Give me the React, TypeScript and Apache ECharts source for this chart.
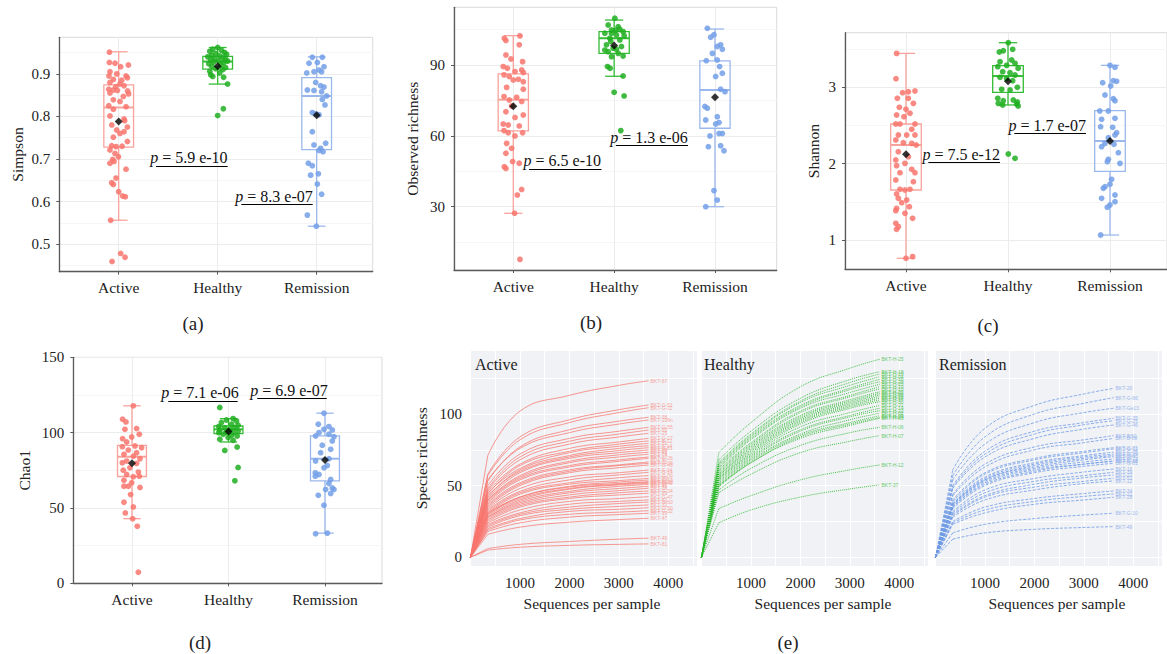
import React, { useEffect, useRef } from "react";
import * as echarts from "echarts";

const SERIF = '"Liberation Serif", "DejaVu Serif", serif';
const CATEGORIES = ["Active", "Healthy", "Remission"];
const POINT_COLORS = ["#F8766D", "#1FAE1F", "#739FE8"];
const BOX_COLORS = ["#F9A29C", "#35BC35", "#9BB8EC"];
const CURVE_COLORS = ["#F8766D", "#2DB82D", "#6F9BE6"];
const CURVE_LABEL_COLORS = ["#F7A59F", "#6CCB6C", "#9DB8EC"];

// ---- (a) Simpson ----  box: [lowerWhisker, Q1, median, Q3, upperWhisker]
const SIMPSON_BOX = [
  [0.556, 0.728, 0.821, 0.874, 0.952],
  [0.876, 0.911, 0.929, 0.941, 0.962],
  [0.542, 0.722, 0.848, 0.891, 0.94],
];
const SIMPSON_MEAN = [0.788, 0.918, 0.803];
// points: [jitter, value]
const SIMPSON_ACTIVE = [[-0.094,0.951],[-0.094,0.927],[-0.037,0.925],[0.098,0.921],[0.02,0.917],[-0.088,0.905],[-0.02,0.9],[-0.098,0.895],[0.074,0.895],[0.088,0.891],[-0.054,0.887],[0.03,0.885],[-0.088,0.88],[0.013,0.876],[0.054,0.872],[-0.03,0.87],[-0.1,0.864],[-0.054,0.862],[-0.013,0.861],[0.09,0.86],[-0.088,0.855],[0.1,0.853],[0.047,0.847],[-0.054,0.839],[0.013,0.835],[-0.1,0.825],[0.074,0.823],[-0.054,0.817],[-0.088,0.801],[0.054,0.794],[0.06,0.79],[-0.07,0.78],[0.088,0.775],[-0.02,0.768],[0.013,0.76],[0.054,0.764],[-0.054,0.751],[0.088,0.741],[-0.071,0.731],[-0.027,0.729],[0.034,0.73],[-0.088,0.721],[-0.037,0.713],[-0.003,0.705],[-0.061,0.699],[-0.088,0.69],[-0.047,0.694],[0.074,0.676],[-0.027,0.655],[-0.071,0.644],[-0.054,0.64],[0,0.623],[0.04,0.613],[0.067,0.611],[-0.081,0.556],[0.02,0.478],[0.064,0.469],[-0.067,0.459]];
const SIMPSON_HEALTHY = [[0,0.962],[-0.05,0.958],[0.04,0.955],[-0.08,0.953],[0.07,0.95],[-0.02,0.948],[0.09,0.946],[-0.06,0.944],[0.02,0.942],[-0.1,0.94],[0.05,0.938],[-0.03,0.936],[0.08,0.935],[-0.07,0.933],[0.01,0.931],[0.1,0.93],[-0.04,0.928],[0.06,0.926],[-0.09,0.924],[0.03,0.921],[-0.06,0.918],[0.08,0.915],[-0.02,0.912],[0.05,0.91],[-0.08,0.906],[0.02,0.902],[-0.07,0.898],[-0.05,0.894],[0.06,0.892],[0.1,0.876],[0.057,0.818],[0,0.802]];
const SIMPSON_REMISSION = [[-0.044,0.939],[0.057,0.939],[0.007,0.927],[-0.077,0.925],[0.074,0.917],[0.024,0.909],[-0.027,0.905],[-0.1,0.902],[0.05,0.905],[-0.01,0.88],[0.04,0.872],[0.074,0.869],[-0.094,0.862],[-0.027,0.861],[0.05,0.858],[0.1,0.848],[0.057,0.84],[0.084,0.827],[-0.044,0.809],[-0.01,0.806],[0.024,0.804],[-0.044,0.764],[0.091,0.737],[-0.027,0.733],[0.04,0.725],[0.064,0.717],[0.024,0.72],[-0.084,0.69],[-0.044,0.684],[-0.061,0.662],[0.017,0.665],[0.007,0.641],[0.05,0.617],[-0.094,0.568],[-0.003,0.542]];
const SIMPSON_TICKS = [0.5, 0.6, 0.7, 0.8, 0.9];
const SIMPSON_MINOR = [0.45, 0.55, 0.65, 0.75, 0.85, 0.95];
const SIMPSON_P = [
  { text: "5.9 e-10", x1: 1.377, x2: 2.101, y: 0.684 },
  { text: "8.3 e-07", x1: 2.239, x2: 2.96, y: 0.594 },
];

// ---- (b) Observed richness ----
const OBSERVED_BOX = [
  [27.2, 62.1, 75.3, 86.2, 102.4],
  [85.2, 94.9, 101.3, 104.1, 109],
  [30, 63.2, 79.4, 91.7, 105.2],
];
const OBSERVED_MEAN = [72.5, 98.2, 76.3];
const OBSERVED_ACTIVE = [[-0.089,101.3],[-0.073,100.3],[0.066,102.3],[0.059,98.5],[-0.073,94.2],[-0.023,92.5],[0.092,91.4],[-0.1,89.3],[-0.059,88.6],[0.017,87.2],[0.083,87.9],[0.1,86.8],[-0.092,85.8],[-0.04,85.1],[0,83.6],[0.05,83.9],[0.099,82.9],[-0.066,80.5],[0.099,79.7],[-0.092,76.6],[-0.04,75.2],[0.033,76.3],[0.083,74.5],[-0.017,72.6],[-0.073,70.2],[0.099,68.8],[0.017,67.8],[-0.1,65],[-0.05,64.6],[0.059,64.2],[-0.092,62.2],[-0.05,61.3],[0.092,61.3],[0.017,59.9],[-0.066,56.8],[-0.017,54.7],[-0.073,52.6],[0.059,48.4],[-0.007,49.1],[-0.089,46.9],[-0.073,46.2],[0.083,37.3],[0.04,34.9],[0.013,27.2],[0.066,7.7]];
const OBSERVED_HEALTHY = [[0.007,109.8],[-0.059,106.9],[0.04,106.2],[-0.026,104.8],[0.089,104.1],[-0.092,103.4],[0.023,102.7],[-0.043,101.3],[0.1,102.3],[0.056,100.6],[-0.076,98.5],[-0.01,97.1],[0.073,97.8],[-0.059,95.6],[0.04,94.9],[-0.026,93.5],[0.089,93.8],[-0.066,89.3],[-0.04,88.6],[0.089,85.3],[0,78.4],[0.099,76.9],[0.066,62.2],[-0.026,103.4],[0.013,104.6],[-0.033,99.9],[0.023,96.6],[0.056,105.1],[-0.092,96.3]];
const OBSERVED_REMISSION = [[-0.076,105.5],[-0.01,102.8],[-0.043,101.7],[0.056,98.5],[0.023,97.8],[0.073,96.6],[-0.026,94.9],[-0.086,91.8],[0.023,92.1],[0.046,89.3],[0.007,85.1],[0.073,86.5],[0.056,79.7],[0.099,78.7],[-0.1,72.4],[-0.076,71.7],[-0.092,66.7],[0.023,68.1],[0.04,65.6],[0.007,65],[0.04,61],[0.073,61],[-0.05,59.9],[-0.066,55.4],[0.056,55.8],[0.089,53.7],[-0.01,36.8],[0.023,32.8],[-0.092,30]];
const OBSERVED_TICKS = [30, 60, 90];
const OBSERVED_MINOR = [15, 45, 75, 105];
const OBSERVED_P = [
  { text: "6.5 e-10", x1: 1.155, x2: 1.875, y: 46 },
  { text: "1.3 e-06", x1: 2.017, x2: 2.733, y: 56.1 },
];

// ---- (c) Shannon ----
const SHANNON_BOX = [
  [0.76, 1.655, 2.245, 2.52, 3.445],
  [2.769, 2.934, 3.148, 3.284, 3.585],
  [1.065, 1.9, 2.297, 2.694, 3.288],
];
const SHANNON_MEAN = [2.122, 3.079, 2.297];
const SHANNON_ACTIVE = [[-0.092,3.445],[-0.098,3.114],[-0.033,2.93],[0.023,2.943],[0.088,2.952],[-0.085,2.856],[0.023,2.856],[0.072,2.79],[0,2.712],[-0.065,2.738],[0.039,2.66],[-0.092,2.638],[-0.02,2.616],[-0.1,2.52],[-0.059,2.52],[0.088,2.52],[0.056,2.45],[0.088,2.376],[-0.075,2.376],[0.007,2.376],[-0.1,2.31],[-0.026,2.275],[0.056,2.266],[0.1,2.245],[-0.075,2.157],[0.023,2.092],[-0.1,2.048],[-0.01,2.004],[-0.092,1.974],[0.056,1.926],[-0.059,1.882],[0.088,1.882],[-0.1,1.786],[0.072,1.764],[-0.059,1.664],[-0.01,1.655],[0.039,1.664],[-0.092,1.603],[-0.075,1.546],[0.007,1.524],[-0.042,1.489],[0.033,1.437],[-0.092,1.415],[-0.1,1.384],[-0.01,1.349],[0.065,1.284],[-0.1,1.218],[-0.075,1.175],[-0.092,1.14],[0,0.76],[0.065,0.782]];
const SHANNON_HEALTHY = [[0.003,3.585],[-0.085,3.463],[0.046,3.498],[-0.046,3.48],[-0.078,3.336],[0.036,3.358],[0.069,3.314],[-0.013,3.288],[-0.1,3.271],[0.1,3.249],[-0.052,3.205],[0.02,3.192],[0.069,3.162],[-0.078,3.131],[-0.013,3.114],[0.046,3.087],[0.092,3.0],[-0.062,2.974],[0.02,2.965],[-0.1,2.856],[-0.046,2.825],[0.052,2.834],[0.092,2.808],[-0.095,2.79],[-0.052,2.768],[0.085,2.781],[0.1,2.755],[0.003,2.127],[0.069,2.07]];
const SHANNON_REMISSION = [[0,3.288],[0.049,3.262],[-0.072,3.061],[0.007,3.017],[0.065,3.079],[0.033,3.087],[-0.049,2.9],[0.033,2.852],[0.049,2.825],[-0.1,2.69],[-0.016,2.69],[-0.082,2.581],[0.049,2.594],[-0.092,2.485],[0.026,2.476],[0.065,2.406],[0.049,2.376],[-0.016,2.341],[-0.049,2.266],[0.039,2.253],[-0.082,2.223],[0.082,2.144],[-0.016,2.057],[-0.026,2.026],[0.098,2.004],[0.016,1.795],[-0.049,1.699],[-0.065,1.677],[0,1.729],[-0.082,1.546],[0.049,1.59],[0.049,1.502],[0,1.459],[-0.026,1.428],[-0.092,1.065]];
const SHANNON_TICKS = [1, 2, 3];
const SHANNON_MINOR = [1.5, 2.5, 3.5];
const SHANNON_P = [
  { text: "7.5 e-12", x1: 1.219, x2: 1.922, y: 2.017 },
  { text: "1.7 e-07", x1: 2.062, x2: 2.765, y: 2.397 },
];

// ---- (d) Chao1 ----
const CHAO1_BOX = [
  [42.9, 70.9, 84, 91.6, 117.8],
  [93.8, 99.3, 102.2, 104.4, 109.3],
  [33.3, 68, 82.7, 97.8, 112.9],
];
const CHAO1_MEAN = [79.6, 100.7, 81.8];
const CHAO1_ACTIVE = [[0.014,117.8],[-0.097,108.9],[-0.062,107.1],[0.048,102.7],[-0.073,102.2],[0.076,98.9],[-0.097,96],[-0.003,97.1],[-0.055,93.8],[0.031,91.1],[-0.1,90.7],[0.1,90],[-0.038,88.4],[0.048,86.7],[-0.083,85.6],[0.014,84.4],[0.083,82.7],[-0.055,81.1],[-0.1,80],[0.048,79.6],[-0.021,76.7],[-0.09,75.1],[0.066,73.8],[-0.055,72.2],[0.014,70.7],[0.076,71.1],[-0.083,68.4],[-0.003,66.7],[-0.038,64.4],[-0.083,64.4],[0.083,63.6],[-0.014,58.9],[0.014,50.7],[-0.083,53.8],[-0.069,46.7],[0.007,42.9],[0.055,37.8],[0.066,7.3]];
const CHAO1_HEALTHY = [[-0.09,116.7],[0.048,109.3],[-0.021,108.4],[0.083,107.8],[-0.073,106.7],[0.031,105.6],[0.1,104.9],[-0.1,104],[-0.038,103.3],[0.066,103.3],[0.014,102.2],[-0.09,101.8],[0.1,101.1],[-0.021,100.4],[0.048,100],[-0.1,100],[-0.055,98.9],[0.031,98.2],[0.09,97.8],[-0.003,96.7],[-0.09,95.6],[0.048,94.9],[-0.038,88.2],[0.09,90.4],[0.1,76.9],[0.066,68]];
const CHAO1_REMISSION = [[-0.01,112.9],[-0.069,105.6],[0.041,104],[-0.01,102.2],[0.076,101.8],[-0.062,100],[0.041,98.9],[0.093,97.3],[-0.097,97.8],[0.076,94.4],[-0.028,91.6],[0.059,88.9],[-0.045,86.7],[0.041,82.7],[-0.097,81.1],[0.024,78.2],[-0.01,76.7],[-0.1,73.3],[-0.062,72.2],[-0.1,71.1],[0.059,68.9],[0.041,66.2],[0.076,63.3],[0.093,62.2],[0.007,62.2],[0.059,59.6],[-0.069,58.4],[-0.01,51.8],[-0.097,32.9],[0.024,33.3]];
const CHAO1_TICKS = [0, 50, 100, 150];
const CHAO1_MINOR = [25, 75, 125];
const CHAO1_P = [
  { text: "7.1 e-06", x1: 1.376, x2: 2.095, y: 121.1 },
  { text: "6.9 e-07", x1: 2.298, x2: 3.018, y: 122.7 },
];

// ---- (e) rarefaction curves ----
// the first segment (0 -> first depth) is straight, the rest is a smooth saturating curve
const DEPTHS = [0, 350, 1000, 2000, 3000, 3600];
const ACTIVE_NAMES = ["BKT-67","BKT-G-51","BKT-G-11","BKT-38","BKT-106n","BKT-G-55","BKT-55","BKT-25","BKT-G-17","BKT-B-12","BKT-31","BKT-S-14","BKT-88","BKT-02","BKT-74","BKT-G-26","BKT-70","BKT-G-43","BKT-S-34","BKT-G-14","BKT-59","BKT-G-63","BKT-83","BKT-G-49","BKT-12","BKT-30","BKT-G-34","BKT-29","BKT-G-47","BKT-62","BKT-32","BKT-G-50","BKT-G-32","BKT-19","BKT-47","BKT-46","BKT-81","BKT-G-21","BKT-G-38","BKT-G-09","BKT-41","BKT-G-60","BKT-17","BKT-G-22"];
const ACTIVE_CURVES = [
  [0,71,102,113,120,123.2],[0,58,84,96,103,106.3],[0,57,82,94,101,104.4],[0,53,77,89,95,97.7],
  [0,54,76,87,93,95.8],[0,50,72,83,88,90.7],[0,48,70,81,86,88.8],[0,47,68,79,84,86.5],
  [0,46,65,76,80.5,83],[0,44,64,74,79,81.2],[0,45,62,73,77.5,79.5],[0,42,61,71,76,77.9],
  [0,41,59,69,73,74.9],[0,40,57,67,71.5,73.3],[0,40,56,66,70,71.9],[0,38,54,63,67,69.1],
  [0,37,52,61,64.5,66.5],[0,35,50,59,62.5,64.4],[0,34,48,56,59,60.9],[0,33,46,54,57.5,59.3],
  [0,31,44,51,53.5,55.1],[0,30,42,49.5,52.5,53.9],[0,31,42,49,51.5,52.8],[0,29,40,47.5,50.5,51.6],
  [0,28,39,46,49.5,50.8],[0,27,37,43.5,46.5,48.2],[0,26,36,42,45,46.3],[0,25,35,41,43.5,44.7],
  [0,24,33,39,41,42.3],[0,23,31,37,39,40],[0,21,29,33.5,35.5,36.5],[0,20,27,32,33.5,34.6],
  [0,19,26,30,31.5,32.5],[0,18,24,28,29.8,30.7],[0,16,21,24.5,26.3,27.2],[0,6,9,11,12.6,13.3],
  [0,5,7,8.3,9,9.3],[0,43,60,70,74.5,76.5],[0,36,51,60,64,65.5],[0,32,45,52,55.5,57],
  [0,28,38,45,48,49.5],[0,22,30,35,37.5,38.5],[0,39,55,64,68,70],[0,30,41,48,51,52.3],
];
const HEALTHY_NAMES = ["BKT-H-25","BKT-H-18","BKT-H-19","BKT-H-04","BKT-H-16","BKT-H-28","BKT-H-23","BKT-H-10","BKT-H-01","BKT-H-05","BKT-H-09","BKT-H-11","BKT-H-17","BKT-H-30","BKT-H-14","BKT-H-22","BKT-H-02","BKT-H-08","BKT-H-03","BKT-H-06","BKT-H-07","BKT-H-12","BKT-37","BKT-H-13","BKT-H-21","BKT-H-24","BKT-H-20"];
const HEALTHY_CURVES = [
  [0,73,94,119,132,138.2],[0,68,88,111,124,129.5],[0,66,86,109,122,127.9],[0,65,85,108,120,126],
  [0,64,84,106,118,124.2],[0,63,83,105,117,122.5],[0,62,82,104,115,120.7],[0,61,80,102,113,119],
  [0,58,77,98,109,114.4],[0,57,76,97,108,113.3],[0,57,75,96,107,112.1],[0,56,74,95,106,111],
  [0,55,73,94,105,109.8],[0,55,72,93,104,108.6],[0,53,70,89,99,104],[0,52,69,88,98,102.3],
  [0,51,68,86,96,100.5],[0,50,67,85,94,98.8],[0,49,66,83,92,97],[0,47,62,78,87,90.7],
  [0,45,58,73,81,84.9],[0,34,43,54,61,64.4],[0,24,33,42,47.7,50.5],[0,60,79,101,112,117.5],
  [0,54,71,91,101,106],[0,50,66,84,93,97.6],[0,59,78,99,110,115.5],
];
const REMISSION_NAMES = ["BKT-26","BKT-G-66","BKT-Ge13","BKT-G-35","BKT-G-25","BKT-G-46","BKT-Bi50","BKT-B-08","BKT-G-92","BKT-G-05","BKT-G-29","BKT-20","BKT-G-73","BKT-G-15","BKT-G-01","BKT-16","BKT-39","BKT-22","BKT-52","BKT-12","BKT-34","BKT-21","BKT-28","BKT-G-10","BKT-49","BKT-G-40","BKT-G-08","BKT-G-71"];
const REMISSION_CURVES = [
  [0,61,90,106,114,117.9],[0,57,84,100,107.5,111.4],[0,54,79,94,101,104],[0,50,74,88,94,97],
  [0,49,72,86,92.5,95.3],[0,48,70,83,89.5,92.3],[0,44,65,77,82,84.9],[0,43,63,75,80,83],
  [0,39,58,68,73,75.6],[0,38,56,66,71,73.3],[0,37,55,65,70,71.9],[0,36,54,63,68,70.2],
  [0,36,53,62,66.5,68.6],[0,35,52,61,65,67.2],[0,34,50,59,63.5,65.6],[0,32,47,55,59.5,61.6],
  [0,31,45,53,57,59.3],[0,30,43,51,55.5,57.4],[0,29,42,49,53,55.1],[0,28,40,47,51.5,53.2],
  [0,25,35,41,44.5,46.3],[0,24,33,39,42.5,44.2],[0,23,31,37,40,41.9],[0,17,23,27,29.5,30.7],
  [0,12.6,17,19.5,20.8,21.4],[0,37,54,64,69,71],[0,35,51,60,65,67],[0,40,59,69,74,76.5],
];

const BOX_HALF = 0.15;
const CAP_HALF = 0.09;

function renderBox(params: any, api: any) {
  const x = api.value(0);
  const lo = api.value(1), q1 = api.value(2), med = api.value(3), q3 = api.value(4), hi = api.value(5);
  const c = BOX_COLORS[params.dataIndex];
  const tl = api.coord([x - BOX_HALF, q3]);
  const br = api.coord([x + BOX_HALF, q1]);
  const mL = api.coord([x - BOX_HALF, med]);
  const mR = api.coord([x + BOX_HALF, med]);
  const top = api.coord([x, hi]);
  const q3c = api.coord([x, q3]);
  const q1c = api.coord([x, q1]);
  const bot = api.coord([x, lo]);
  const cTL = api.coord([x - CAP_HALF, hi]);
  const cTR = api.coord([x + CAP_HALF, hi]);
  const cBL = api.coord([x - CAP_HALF, lo]);
  const cBR = api.coord([x + CAP_HALF, lo]);
  const ln = (a: number[], b: number[], w = 1.3) => ({
    type: "line",
    shape: { x1: a[0], y1: a[1], x2: b[0], y2: b[1] },
    style: { stroke: c, lineWidth: w },
  });
  return {
    type: "group",
    children: [
      { type: "rect", shape: { x: tl[0], y: tl[1], width: br[0] - tl[0], height: br[1] - tl[1] }, style: { stroke: c, lineWidth: 1.3, fill: "rgba(255,255,255,0)" } },
      ln(mL, mR, 2),
      ln(top, q3c),
      ln(q1c, bot),
      ln(cTL, cTR),
      ln(cBL, cBR),
    ],
  };
}

type BoxPanel = {
  grid: any; xMin: number; xMax: number; yMin: number; yMax: number;
  ticks: number[]; minor: number[]; name: string; nameGap: number; decimals: number;
  box: number[][]; means: number[]; pts: number[][][]; pvals: any[];
};

const BOX_PANELS: BoxPanel[] = [
  { grid: { left: 59.3, top: 37.3, width: 313.4, height: 234.4 }, xMin: 0.4, xMax: 3.566, yMin: 0.435, yMax: 0.986,
    ticks: SIMPSON_TICKS, minor: SIMPSON_MINOR, name: "Simpson", nameGap: 34, decimals: 1,
    box: SIMPSON_BOX, means: SIMPSON_MEAN, pts: [SIMPSON_ACTIVE, SIMPSON_HEALTHY, SIMPSON_REMISSION], pvals: SIMPSON_P },
  { grid: { left: 454, top: 7.3, width: 322.7, height: 262.7 }, xMin: 0.412, xMax: 3.612, yMin: 3.2, yMax: 114.4,
    ticks: OBSERVED_TICKS, minor: OBSERVED_MINOR, name: "Observed richness", nameGap: 34, decimals: 0,
    box: OBSERVED_BOX, means: OBSERVED_MEAN, pts: [OBSERVED_ACTIVE, OBSERVED_HEALTHY, OBSERVED_REMISSION], pvals: OBSERVED_P },
  { grid: { left: 845, top: 32.7, width: 322, height: 236.6 }, xMin: 0.402, xMax: 3.559, yMin: 0.616, yMax: 3.716,
    ticks: SHANNON_TICKS, minor: SHANNON_MINOR, name: "Shannon", nameGap: 24, decimals: 0,
    box: SHANNON_BOX, means: SHANNON_MEAN, pts: [SHANNON_ACTIVE, SHANNON_HEALTHY, SHANNON_REMISSION], pvals: SHANNON_P },
  { grid: { left: 73.3, top: 357.3, width: 308.7, height: 226 }, xMin: 0.392, xMax: 3.591, yMin: 0, yMax: 150,
    ticks: CHAO1_TICKS, minor: CHAO1_MINOR, name: "Chao1", nameGap: 41, decimals: 0,
    box: CHAO1_BOX, means: CHAO1_MEAN, pts: [CHAO1_ACTIVE, CHAO1_HEALTHY, CHAO1_REMISSION], pvals: CHAO1_P },
];

const RARE_GRIDS = [
  { left: 469, top: 350, width: 228, height: 216.7 },
  { left: 700, top: 350, width: 228, height: 216.7 },
  { left: 934, top: 350, width: 228, height: 216.7 },
];
const RARE_TITLES = ["Active", "Healthy", "Remission"];
const RARE_SETS = [
  { names: ACTIVE_NAMES, curves: ACTIVE_CURVES, dash: "solid" as any, opacity: 0.75 },
  { names: HEALTHY_NAMES, curves: HEALTHY_CURVES, dash: "dotted" as any, opacity: 0.85 },
  { names: REMISSION_NAMES, curves: REMISSION_CURVES, dash: [3, 1.5] as any, opacity: 0.8 },
];

function buildOption() {
  const grids: any[] = [];
  const xAxes: any[] = [];
  const yAxes: any[] = [];
  const series: any[] = [];
  const axisTxt = { color: "#222", fontFamily: SERIF };

  BOX_PANELS.forEach((p, i) => {
    grids.push({ ...p.grid, show: true, backgroundColor: "#ffffff", borderColor: "#dadada", borderWidth: 1 });
    xAxes.push({
      type: "value", gridIndex: i, min: p.xMin, max: p.xMax,
      splitLine: { show: false },
      axisLine: { show: true, onZero: false, lineStyle: { color: "#5a5a5a", width: 1.3 } },
      axisTick: { show: true, customValues: [1, 2, 3], length: 3, lineStyle: { color: "#5a5a5a" } },
      axisLabel: { customValues: [1, 2, 3], formatter: (v: number) => CATEGORIES[Math.round(v) - 1] || "", fontSize: 15.5, margin: 8, ...axisTxt },
    });
    yAxes.push({
      type: "value", gridIndex: i, min: p.yMin, max: p.yMax,
      splitLine: { show: false },
      axisLine: { show: true, onZero: false, lineStyle: { color: "#5a5a5a", width: 1.3 } },
      axisTick: { show: true, customValues: p.ticks, length: 3, lineStyle: { color: "#5a5a5a" } },
      axisLabel: { customValues: p.ticks, formatter: (v: number) => v.toFixed(p.decimals), fontSize: 15, margin: 9, ...axisTxt },
      name: p.name, nameLocation: "middle", nameGap: p.nameGap, nameRotate: 90,
      nameTextStyle: { fontSize: 15.5, ...axisTxt },
    });
    // grid lines
    series.push({
      type: "line", xAxisIndex: i, yAxisIndex: i, data: [], silent: true, z: 0,
      markLine: {
        silent: true, symbol: ["none", "none"], z: 0, animation: false,
        label: { show: false },
        data: [
          ...p.ticks.map((v) => ({ yAxis: v, lineStyle: { color: "#ececec", width: 1, type: "solid" } })),
          ...p.minor.map((v) => ({ yAxis: v, lineStyle: { color: "#f6f6f6", width: 1, type: "solid" } })),
          ...[1, 2, 3].map((v) => ({ xAxis: v, lineStyle: { color: "#ececec", width: 1, type: "solid" } })),
        ],
      },
    });
    // boxes
    series.push({
      type: "custom", xAxisIndex: i, yAxisIndex: i, renderItem: renderBox, silent: true, z: 2,
      encode: { x: 0, y: [1, 2, 3, 4, 5] },
      data: p.box.map((b, g) => [g + 1, ...b]),
    });
    // points
    p.pts.forEach((pts, g) => {
      series.push({
        type: "scatter", xAxisIndex: i, yAxisIndex: i, silent: true, z: 3,
        symbolSize: 5.8,
        itemStyle: { color: POINT_COLORS[g], opacity: 0.85 },
        data: pts.map(([dx, v]) => [g + 1 + dx, v]),
      });
    });
    // means + p-value annotations
    series.push({
      type: "scatter", xAxisIndex: i, yAxisIndex: i, silent: true, z: 4,
      symbol: "diamond", symbolSize: 8,
      itemStyle: { color: "#000" },
      data: p.means.map((m, g) => [g + 1, m]),
      markLine: {
        silent: true, symbol: ["none", "none"], animation: false,
        lineStyle: { color: "#000", width: 1, type: "solid" },
        label: {
          show: true, position: "insideMiddleTop", distance: 1,
          formatter: (q: any) => `{i|p} = ${q.name}`,
          fontSize: 16, color: "#111", fontFamily: SERIF, lineHeight: 14,
          padding: [0, 6, 0, 0],
          rich: { i: { fontStyle: "italic", fontSize: 16, color: "#111", fontFamily: SERIF, lineHeight: 14 } },
        },
        data: p.pvals.map((q) => [{ name: q.text, coord: [q.x1, q.y] }, { coord: [q.x2, q.y] }]),
      },
    });
  });

  RARE_SETS.forEach((set, k) => {
    const gi = 4 + k;
    grids.push({ ...RARE_GRIDS[k], show: true, backgroundColor: "#F0F2F6", borderWidth: 0 });
    xAxes.push({
      type: "value", gridIndex: gi, min: -30, max: 4580, minInterval: 500, maxInterval: 500,
      splitLine: { show: true, lineStyle: { color: "#ffffff", width: 1 } },
      axisLine: { show: false }, axisTick: { show: false },
      axisLabel: { formatter: (v: number) => (v > 0 && Math.abs(v % 1000) < 1e-6 ? String(v) : ""), fontSize: 15, margin: 9, ...axisTxt },
      name: "Sequences per sample", nameLocation: "middle", nameGap: 29,
      nameTextStyle: { fontSize: 15.5, padding: [0, 0, 0, 18], ...axisTxt },
    });
    yAxes.push({
      type: "value", gridIndex: gi, min: -6.6, max: 144.7, minInterval: 25, maxInterval: 25,
      splitLine: { show: true, lineStyle: { color: "#ffffff", width: 1 } },
      axisLine: { show: false }, axisTick: { show: false },
      axisLabel: { show: k === 0, formatter: (v: number) => (Math.abs(v % 50) < 1e-6 ? String(v) : ""), fontSize: 15, margin: 7, ...axisTxt },
      name: k === 0 ? "Species richness" : "", nameLocation: "middle", nameGap: 40, nameRotate: 90,
      nameTextStyle: { fontSize: 15.5, ...axisTxt },
    });
    const lineStyle = { color: CURVE_COLORS[k], width: 1, type: set.dash, opacity: set.opacity };
    set.curves.forEach((row, j) => {
      const pts = DEPTHS.map((d, t) => [d, row[t]]);
      // steep initial segment (straight)
      series.push({
        type: "line", xAxisIndex: gi, yAxisIndex: gi, silent: true,
        showSymbol: false, symbol: "none", smooth: false,
        lineStyle, itemStyle: { color: CURVE_COLORS[k] },
        emphasis: { disabled: true },
        data: pts.slice(0, 2),
      });
      // saturating part (smooth)
      series.push({
        type: "line", name: set.names[j], xAxisIndex: gi, yAxisIndex: gi, silent: true,
        showSymbol: false, symbol: "none", smooth: 0.45,
        lineStyle, itemStyle: { color: CURVE_COLORS[k] },
        endLabel: { show: true, formatter: "{a}", fontSize: 5, color: CURVE_LABEL_COLORS[k], distance: 2, fontFamily: "Liberation Sans" },
        emphasis: { disabled: true },
        data: pts.slice(1),
      });
    });
  });

  const caption = (text: string, x: number, y: number, size = 19, align = "center") => ({
    type: "text", x, y, silent: true, z: 100,
    style: { text, fill: "#222", fontSize: size, fontFamily: SERIF, align, verticalAlign: "middle" },
  });

  return {
    animation: false,
    backgroundColor: "#ffffff",
    textStyle: { fontFamily: SERIF },
    grid: grids,
    xAxis: xAxes,
    yAxis: yAxes,
    series,
    graphic: [
      caption("(a)", 193, 323),
      caption("(b)", 591, 322),
      caption("(c)", 988, 325),
      caption("(d)", 200, 642),
      caption("(e)", 788, 642),
      caption(RARE_TITLES[0], 475, 364.5, 16, "left"),
      caption(RARE_TITLES[1], 704, 364.5, 16, "left"),
      caption(RARE_TITLES[2], 939, 364.5, 16, "left"),
    ],
  };
}

export default function App() {
  const ref = useRef<HTMLDivElement>(null);
  useEffect(() => {
    if (!ref.current) return;
    const chart = echarts.init(ref.current, null, { renderer: "svg" });
    chart.setOption(buildOption() as any);
    return () => chart.dispose();
  }, []);
  return (
    <div
      ref={ref}
      style={{ position: "fixed", left: 0, top: 0, width: 1167, height: 654, background: "#fff" }}
    />
  );
}
